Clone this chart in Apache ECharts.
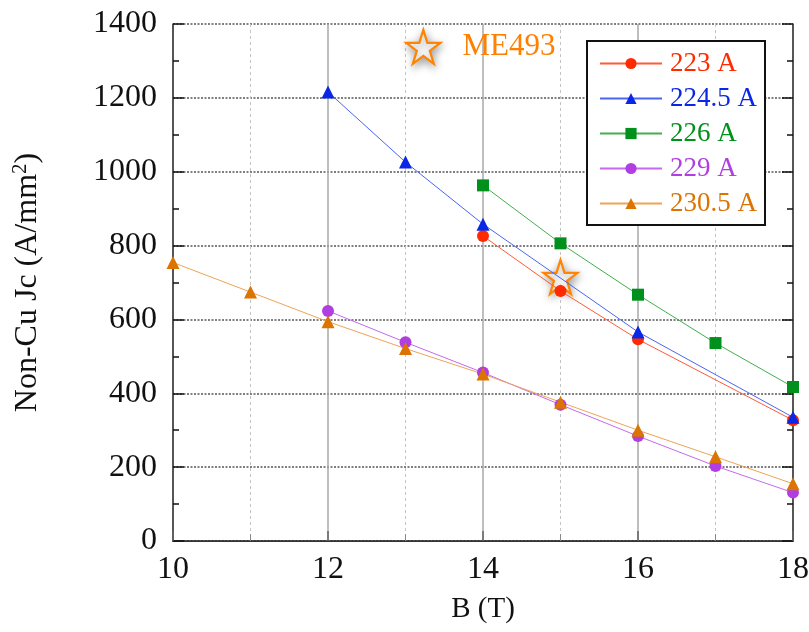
<!DOCTYPE html>
<html>
<head>
<meta charset="utf-8">
<script src="https://cdn.jsdelivr.net/npm/echarts@6/dist/echarts.min.js"></script>
<style>
  html, body { margin: 0; padding: 0; background: #fff; }
  #chart { width: 809px; height: 632px; }
</style>
</head>
<body>
<div id="chart"></div>
<script>
// Non-Cu critical current density versus field, one curve per test current
const fieldTicks = [10, 12, 14, 16, 18];

const b223 = [14, 15, 16, 18];
const jc223 = [826, 677, 546, 327];

const b224 = [12, 13, 14, 16, 18];
const jc224 = [1216, 1026, 858, 566, 335];

const b226 = [14, 15, 16, 17, 18];
const jc226 = [963, 806, 667, 536, 417];

const b229 = [12, 13, 14, 15, 16, 17, 18];
const jc229 = [623, 538, 456, 369, 284, 203, 131];

const b230 = [10, 11, 12, 13, 14, 15, 16, 17, 18];
const jc230 = [754, 674, 594, 521, 452, 376, 300, 228, 155];

// ME493 reference point and its key marker
const me493Point = [15, 715];
const me493Key = [13.23, 1338];

const seriesDefs = [
  { name: '223 A',   b: b223, jc: jc223, symbol: 'circle',   size: 12, mark: '#ff2a00', line: '#ff5a3a', text: '#ff2a00' },
  { name: '224.5 A', b: b224, jc: jc224, symbol: 'triangle', size: 13, mark: '#0a26e6', line: '#4a66f0', text: '#0a26e6' },
  { name: '226 A',   b: b226, jc: jc226, symbol: 'rect',     size: 12, mark: '#00901c', line: '#44ae4c', text: '#00901c' },
  { name: '229 A',   b: b229, jc: jc229, symbol: 'circle',   size: 12, mark: '#b03ee0', line: '#c46af0', text: '#b03ee0' },
  { name: '230.5 A', b: b230, jc: jc230, symbol: 'triangle', size: 13, mark: '#db7400', line: '#eea456', text: '#db7400' }
];

const serif = 'Liberation Serif, Times New Roman, serif';
const starPath = 'path://M50,2 L61.2,36.5 L97.6,36.5 L68.2,57.9 L79.4,92.5 L50,71.1 L20.6,92.5 L31.8,57.9 L2.4,36.5 L38.8,36.5 Z';
const starStyle = {
  color: '#ffffff',
  opacity: 1,
  borderColor: '#ff8400',
  borderWidth: 2.2,
  shadowBlur: 8,
  shadowColor: 'rgba(0,0,0,0.35)',
  shadowOffsetX: 1,
  shadowOffsetY: 3
};

const lineSeries = seriesDefs.map(d => ({
  name: d.name,
  type: 'line',
  data: d.b.map((b, i) => [b, d.jc[i]]),
  symbol: d.symbol,
  symbolSize: d.size,
  showSymbol: true,
  z: 3,
  lineStyle: { color: d.line, width: 1 },
  itemStyle: { color: d.mark },
  emphasis: { disabled: true }
}));

const chart = echarts.init(document.getElementById('chart'), null, { renderer: 'canvas' });

const baseX = {
  type: 'value', min: 10, max: 18, interval: 2
};
const baseY = {
  type: 'value', min: 0, max: 1400, interval: 200
};

chart.setOption({
  animation: false,
  backgroundColor: '#ffffff',
  grid: { left: 173, right: 16, top: 24, bottom: 91, containLabel: false, outerBoundsMode: 'none' },
  legend: {
    orient: 'vertical',
    left: 587, top: 41,
    padding: [9, 8, 8, 12],
    itemWidth: 62, itemHeight: 14, itemGap: 8,
    borderColor: '#111', borderWidth: 2,
    backgroundColor: '#ffffff',
    textStyle: { fontFamily: serif, fontSize: 27, padding: [0, 0, 0, 3] },
    data: seriesDefs.map(d => ({ name: d.name, textStyle: { color: d.text } }))
  },
  xAxis: [
    Object.assign({}, baseX, {
      position: 'bottom',
      name: 'B (T)',
      nameLocation: 'middle',
      nameGap: 54,
      nameTextStyle: { fontFamily: serif, fontSize: 29, color: '#111' },
      axisLine: { show: true, lineStyle: { color: '#222', width: 1.5 } },
      axisTick: { show: true, inside: true, length: 10, lineStyle: { color: '#666', width: 1.5 } },
      minorTick: { show: true, splitNumber: 2, length: 7, lineStyle: { color: '#888', width: 1 } },
      axisLabel: { fontFamily: serif, fontSize: 32, color: '#111', margin: 13,
        formatter: v => fieldTicks.includes(v) ? String(v) : '' },
      splitLine: { show: true, lineStyle: { color: '#a8a8a8', width: 1.5 } },
      minorSplitLine: { show: true, lineStyle: { color: '#c4c4c4', width: 1, type: [3, 3] } }
    }),
    Object.assign({}, baseX, {
      position: 'top',
      axisLine: { show: true, lineStyle: { color: '#333', width: 1 } },
      axisTick: { show: false },
      axisLabel: { show: false },
      splitLine: { show: false }
    })
  ],
  yAxis: [
    Object.assign({}, baseY, {
      position: 'left',
      name: '{a|Non-Cu Jc (A/mm}{s|2}{a|)}',
      nameLocation: 'middle',
      nameGap: 127,
      nameRotate: 90,
      nameTextStyle: {
        rich: {
          a: { fontFamily: serif, fontSize: 32, color: '#111' },
          s: { fontFamily: serif, fontSize: 21, color: '#111', padding: [0, 0, 15, 0] }
        }
      },
      axisLine: { show: true, lineStyle: { color: '#333', width: 1.5 } },
      axisTick: { show: true, inside: true, length: 11, lineStyle: { color: '#111', width: 1.5 } },
      minorTick: { show: true, splitNumber: 2, length: 6, lineStyle: { color: '#111', width: 1.5 } },
      axisLabel: { fontFamily: serif, fontSize: 32, color: '#111', margin: 16, formatter: v => String(v) },
      splitLine: { show: true, lineStyle: { color: '#555', width: 1.5, type: [2, 1.5] } }
    }),
    Object.assign({}, baseY, {
      position: 'right',
      axisLine: { show: true, lineStyle: { color: '#333', width: 1.5 } },
      axisTick: { show: true, inside: true, length: 11, lineStyle: { color: '#111', width: 1.5 } },
      minorTick: { show: true, splitNumber: 2, length: 6, lineStyle: { color: '#111', width: 1.5 } },
      axisLabel: { show: false },
      splitLine: { show: false }
    })
  ],
  series: lineSeries.concat([
    {
      name: 'ME493',
      type: 'scatter',
      data: [me493Point],
      symbol: starPath,
      symbolSize: 34,
      z: 2,
      itemStyle: starStyle,
      emphasis: { disabled: true }
    },
    {
      name: 'ME493 key',
      type: 'scatter',
      data: [me493Key],
      symbol: starPath,
      symbolSize: 34,
      z: 4,
      itemStyle: starStyle,
      label: {
        show: true, position: 'right', distance: 21,
        formatter: 'ME493',
        fontFamily: serif, fontSize: 31, color: '#ff8000'
      },
      emphasis: { disabled: true }
    }
  ])
});
</script>
</body>
</html>
